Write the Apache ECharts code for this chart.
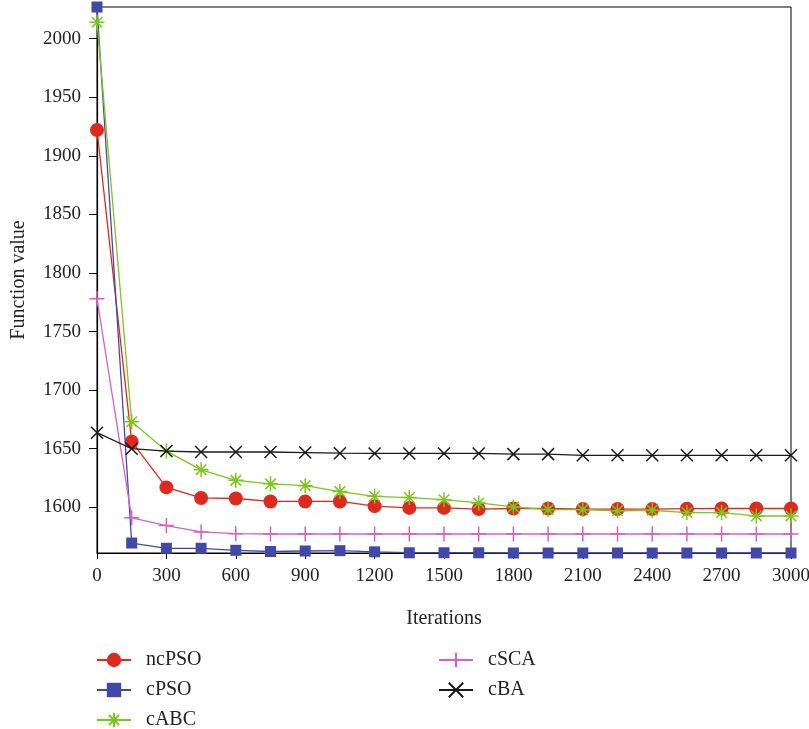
<!DOCTYPE html>
<html>
<head>
<meta charset="utf-8">
<script src="https://cdn.jsdelivr.net/npm/echarts@6/dist/echarts.min.js"></script>
<style>html,body{margin:0;padding:0;background:#fff}#c{width:809px;height:729px}</style>
</head>
<body>
<div id="c"></div>
<script>
const iterations = [0,150,300,450,600,750,900,1050,1200,1350,1500,1650,1800,1950,2100,2250,2400,2550,2700,2850,3000];
const xTicks = [0,300,600,900,1200,1500,1800,2100,2400,2700,3000];
const yTicks = [1600,1650,1700,1750,1800,1850,1900,1950,2000];
const ncPSO = [1922,1656,1617,1608,1607.5,1605,1605,1605,1601,1599.5,1599.5,1598.5,1599,1599,1598.5,1598.5,1598.5,1598.8,1599,1599,1599];
const cPSO  = [2027,1569.5,1565,1565,1563.3,1562.3,1562.7,1563,1562,1561.2,1561.2,1561.2,1561,1561,1561,1561,1561,1561,1561,1561,1561];
const cABC  = [2014,1673,1648,1632,1623,1620,1618.5,1613.4,1609.4,1608.3,1606.5,1603.7,1600.3,1598,1598,1597,1597.5,1595.5,1595.5,1592.6,1592.6];
const cSCA  = [1778,1591,1584.4,1579,1577.5,1577.2,1577.2,1577.2,1577.2,1577.2,1577.2,1577.2,1577.2,1577.2,1577.2,1577.2,1577.2,1577.2,1577.2,1577.2,1577.2];
const cBA   = [1663.7,1650,1648,1647.2,1647.2,1647.2,1646.7,1646.2,1646,1646,1646,1646,1645.4,1645.4,1644.4,1644.4,1644.4,1644.4,1644.4,1644.4,1644.4];

const seriesNames = ['ncPSO','cPSO','cABC','cSCA','cBA'];
const seriesData = [ncPSO,cPSO,cABC,cSCA,cBA];
const colors = ['#DE2A1E','#4149A8','#7CC520','#D262C2','#1a1a1a'];
const symbols = [
  'circle',
  'rect',
  'path://M0,-1L0,1M-1,0L1,0M-0.7,-0.7L0.7,0.7M-0.7,0.7L0.7,-0.7',
  'path://M0,-1L0,1M-1,0L1,0',
  'path://M-1,-1L1,1M-1,1L1,-1'
];
const symbolSizes = [14,11,15,15,12];
const font = 'Liberation Serif';
const legendPos = [[96,650],[96,680],[96,710],[438,650],[438,680]];

const chart = echarts.init(document.getElementById('c'), null, {renderer:'canvas'});
const series = seriesNames.map((n,i)=>{
  const stroked = i >= 2;
  return {
    name: n, type: 'line',
    data: iterations.map((x,k)=>[x, seriesData[i][k]]),
    symbol: symbols[i], symbolSize: symbolSizes[i],
    showAllSymbol: true,
    lineStyle: {color: colors[i], width: 1.3},
    itemStyle: stroked ? {color: colors[i], borderColor: colors[i], borderWidth: 1.5} : {color: colors[i], borderWidth: 0},
    emphasis: {disabled: true},
    animation: false,
    z: 2 + i
  };
});

const legends = seriesNames.map((n,i)=>({
  data: [n], orient: 'horizontal', left: legendPos[i][0], top: legendPos[i][1],
  itemWidth: 34, itemHeight: 18, padding: 0,
  textStyle: {fontFamily: font, fontSize: 20, color: '#222', padding: [0,0,0,10]}
}));

chart.setOption({
  animation: false,
  grid: {left: 97, right: 18, top: 7, bottom: 176, show: true, borderColor: '#000', borderWidth: 1, outerBoundsMode: 'none', containLabel: false},
  xAxis: {
    type: 'value', min: 0, max: 3000, interval: 300,
    name: 'Iterations', nameLocation: 'middle', nameGap: 56,
    nameTextStyle: {fontFamily: font, fontSize: 20, color: '#222'},
    axisLine: {lineStyle: {color: '#000', width: 1.2}},
    axisTick: {show: true, length: 6, lineStyle: {color: '#000'}, customValues: xTicks},
    axisLabel: {fontFamily: font, fontSize: 19, color: '#222', margin: 14, customValues: xTicks, formatter: v => String(v)},
    splitLine: {show: false}
  },
  yAxis: {
    type: 'value', min: 1561, max: 2027,
    name: 'Function value', nameLocation: 'middle', nameGap: 68,
    nameTextStyle: {fontFamily: font, fontSize: 20, color: '#222'},
    axisLine: {lineStyle: {color: '#000', width: 1.2}},
    axisTick: {show: true, length: 8, lineStyle: {color: '#000'}, customValues: yTicks},
    axisLabel: {fontFamily: font, fontSize: 19, color: '#222', margin: 16, customValues: yTicks, formatter: v => String(v)},
    splitLine: {show: false}
  },
  legend: legends,
  series: series
});
</script>
</body>
</html>
